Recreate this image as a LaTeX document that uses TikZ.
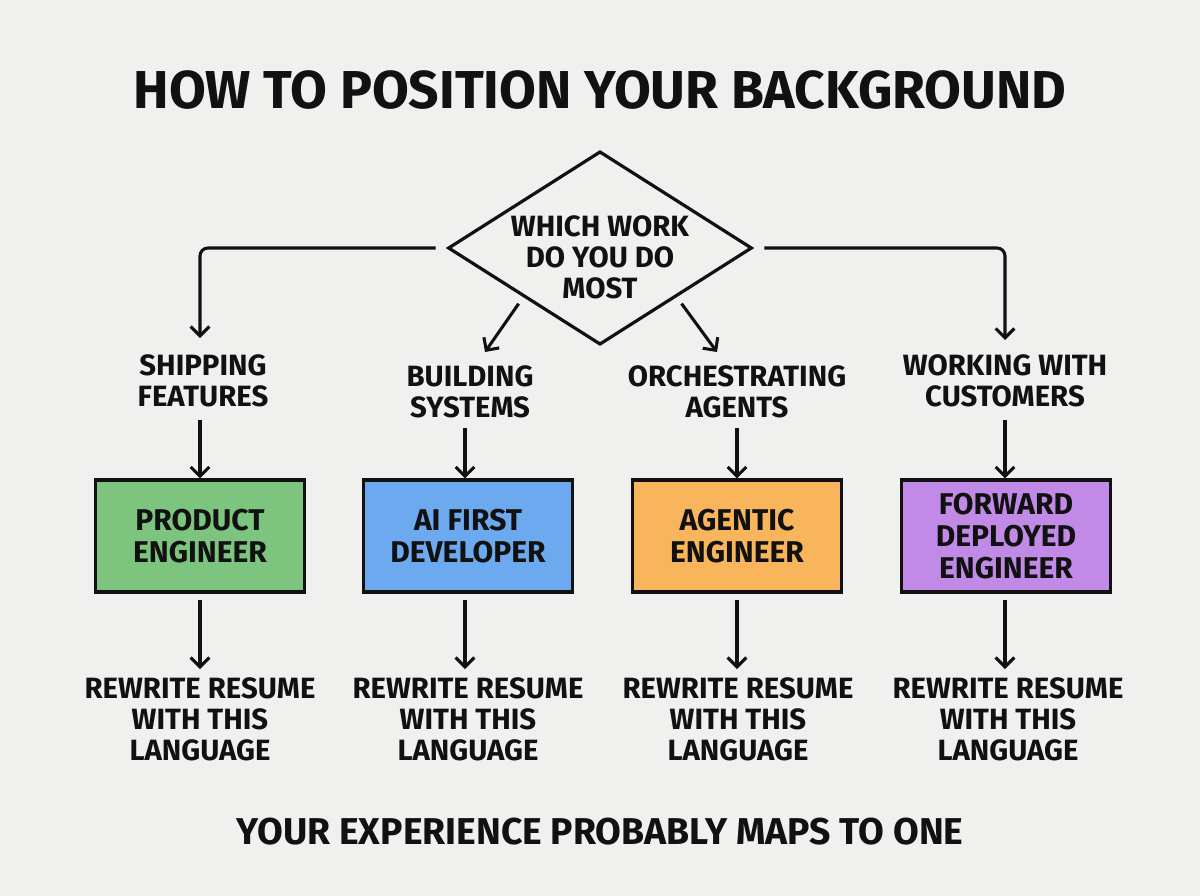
\documentclass[tikz,border=0pt]{standalone}
\usepackage{fontspec}
\setmainfont{Fira Sans}[UprightFont=* Bold]
\usetikzlibrary{arrows.meta,shapes.geometric,calc}
\definecolor{bg}{HTML}{F0F0EF}
\definecolor{cgreen}{HTML}{7DC57F}
\definecolor{cblue}{HTML}{6CA9EE}
\definecolor{corange}{HTML}{F8B55B}
\definecolor{cpurple}{HTML}{C18AE6}
\definecolor{ink}{HTML}{111111}
\tikzset{
  arr/.style={draw=ink, line width=2.3pt, -{Straight Barb[length=7pt,width=14pt,line width=2.3pt]}},
  lbl/.style={align=center, text=ink, font=\fontsize{22}{23.3}\selectfont, inner sep=0pt},
  rolebox/.style={draw=ink, line width=2.4pt, minimum width=157pt, minimum height=84pt, align=center, text=ink, font=\fontsize{22.5}{24}\selectfont, inner sep=0pt},
}
\begin{document}
\begin{tikzpicture}[x=0.75pt,y=-0.75pt]
\fill[bg] (0,0) rectangle (1200,896);
\useasboundingbox (0,0) rectangle (1200,896);
\node[text=ink, font=\fontsize{40}{44}\selectfont, inner sep=0pt] (title) at (600,90) {HOW TO POSITION YOUR BACKGROUND};
\node[diamond, draw=ink, line width=2.4pt, minimum width=228pt, minimum height=145pt, inner sep=0pt, fill=bg] (dia) at (600,248) {};
\node[lbl] (q) at (600,257) {WHICH WORK\\DO YOU DO\\MOST};
\node[lbl] (l1) at (203,381) {SHIPPING\\FEATURES};
\node[lbl] (l2) at (470,392) {BUILDING\\SYSTEMS};
\node[lbl] (l3) at (737,392) {ORCHESTRATING\\AGENTS};
\node[lbl] (l4) at (1005,381) {WORKING WITH\\CUSTOMERS};
\node[rolebox, fill=cgreen] (b1) at (200,536) {PRODUCT\\ENGINEER};
\node[rolebox, fill=cblue] (b2) at (468,536) {AI FIRST\\DEVELOPER};
\node[rolebox, fill=corange] (b3) at (737,536) {AGENTIC\\ENGINEER};
\node[rolebox, fill=cpurple] (b4) at (1006,536) {FORWARD\\DEPLOYED\\ENGINEER};
\node[lbl] (r1) at (200,719) {REWRITE RESUME\\WITH THIS\\LANGUAGE};
\node[lbl] (r2) at (468,719) {REWRITE RESUME\\WITH THIS\\LANGUAGE};
\node[lbl] (r3) at (738,719) {REWRITE RESUME\\WITH THIS\\LANGUAGE};
\node[lbl] (r4) at (1008,719) {REWRITE RESUME\\WITH THIS\\LANGUAGE};
\node[text=ink, font=\fontsize{28}{32}\selectfont, inner sep=0pt] (foot) at (600,832) {YOUR EXPERIENCE PROBABLY MAPS TO ONE};
% connectors from diamond
\coordinate (e1) at (200,338);
\coordinate (e4) at (1005,340);
\coordinate (e2) at (485,352);
\coordinate (e3) at (717,352);
\draw[arr, rounded corners=6pt, shorten <=8pt] (dia.west) -| (e1);
\draw[arr, rounded corners=6pt, shorten <=8pt] (dia.east) -| (e4);
\draw[arr, shorten <=6pt] (dia.south west) -- (e2);
\draw[arr, shorten <=6pt] (dia.south east) -- (e3);
% labels to boxes
\coordinate (s1) at (200,420); \coordinate (s2) at (465,428);
\coordinate (s3) at (737,428); \coordinate (s4) at (1005,420);
\draw[arr] (s1) -- (s1 |- b1.north);
\draw[arr] (s2) -- (s2 |- b2.north);
\draw[arr] (s3) -- (s3 |- b3.north);
\draw[arr] (s4) -- (s4 |- b4.north);
% boxes to rewrite
\coordinate (t1) at (200,600); \coordinate (t2) at (465,600);
\coordinate (t3) at (737,600); \coordinate (t4) at (1005,600);
\draw[arr] (t1) -- ([yshift=6pt]t1 |- r1.north);
\draw[arr] (t2) -- ([yshift=6pt]t2 |- r2.north);
\draw[arr] (t3) -- ([yshift=6pt]t3 |- r3.north);
\draw[arr] (t4) -- ([yshift=6pt]t4 |- r4.north);
\end{tikzpicture}
\end{document}
